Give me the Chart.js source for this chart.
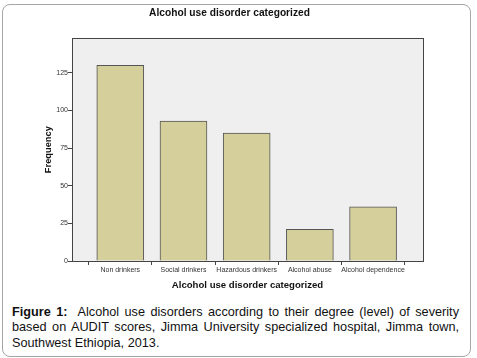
<!DOCTYPE html>
<html>
<head>
<meta charset="utf-8">
<script src="https://cdn.jsdelivr.net/npm/chart.js@4/dist/chart.umd.min.js"></script>
<style>
  body { margin: 0; background: #fff; width: 477px; height: 358px; overflow: hidden; position: relative; }
  #frame { position: absolute; left: 2px; top: 4px; width: 467px; height: 351px; border: 1px solid #a6a6a6; border-radius: 8px; }
  #chart { position: absolute; left: 0; top: 0; }
  #caption { position: absolute; left: 12px; top: 305px; width: 447px; font-family: "Liberation Sans", Arial, sans-serif; font-size: 12.7px; line-height: 15.4px; color: #111; }
  #caption .j { text-align: justify; text-align-last: justify; }
</style>
</head>
<body>
<div id="frame"></div>
<canvas id="chart" width="477" height="300"></canvas>
<div id="caption">
  <div class="j"><b>Figure 1:</b>&nbsp; Alcohol use disorders according to their degree (level) of severity</div>
  <div class="j">based on AUDIT scores, Jimma University specialized hospital, Jimma town,</div>
  <div>Southwest Ethiopia, 2013.</div>
</div>
<script>
// categorias y frecuencias
const categories = ['Non drinkers', 'Social drinkers', 'Hazardous drinkers', 'Alcohol abuse', 'Alcohol dependence'];
const frequency = [130, 93, 85, 21, 36];
const yTicks = [0, 25, 50, 75, 100, 125];

const FONT = '"Liberation Sans", Arial, sans-serif';

// fondo gris y marco del area de trazado (estilo SPSS)
const plotBox = {
    id: 'plotBox',
    beforeDraw(chart) {
        const a = chart.chartArea, c = chart.ctx;
        c.save();
        c.fillStyle = '#efefef';
        c.fillRect(a.left, a.top, a.right - a.left, a.bottom - a.top);
        c.restore();
    },
    afterDraw(chart) {
        const a = chart.chartArea, c = chart.ctx;
        c.save();
        c.strokeStyle = '#444';
        c.lineWidth = 1;
        c.strokeRect(Math.round(a.left) + 0.5, Math.round(a.top) + 0.5, Math.round(a.right - a.left), Math.round(a.bottom - a.top));
        c.restore();
    }
};

new Chart(document.getElementById('chart'), {
    type: 'bar',
    data: {
        datasets: [{
            data: frequency.map((v, i) => ({ x: i + 1, y: v })),
            backgroundColor: '#d4cf9b',
            borderColor: '#555',
            borderWidth: 1,
            barThickness: 47
        }]
    },
    options: {
        responsive: false,
        animation: false,
        layout: { padding: { left: 36, right: 54, top: 0, bottom: 0 } },
        plugins: {
            legend: { display: false },
            tooltip: { enabled: false },
            title: {
                display: true,
                text: 'Alcohol use disorder categorized',
                color: '#111',
                font: { family: FONT, size: 10.2, weight: 'bold' },
                padding: { top: 7, bottom: 19 }
            }
        },
        scales: {
            x: {
                type: 'linear',
                offset: false,
                min: 0.236,
                max: 5.79,
                afterFit: s => { s.height = 39; },
                afterBuildTicks: s => { s.ticks = categories.map((c, i) => ({ value: i + 1 })); },
                grid: { drawOnChartArea: false, drawTicks: true, tickLength: 4, color: '#444' },
                border: { display: true, color: '#444' },
                ticks: {
                    autoSkip: false, maxRotation: 0, padding: 1,
                    color: '#333', font: { family: FONT, size: 7 },
                    callback: v => categories[v - 1]
                },
                title: {
                    display: true,
                    text: 'Alcohol use disorder categorized',
                    color: '#111',
                    font: { family: FONT, size: 9.6, weight: 'bold' },
                    padding: { top: 0, bottom: 9 }
                }
            },
            y: {
                min: 0,
                max: 148,
                afterFit: s => { s.width = 36; },
                afterBuildTicks: s => { s.ticks = yTicks.map(v => ({ value: v })); },
                grid: { drawOnChartArea: false, drawTicks: true, tickLength: 4, color: '#444' },
                border: { display: true, color: '#444' },
                ticks: { padding: 0, color: '#333', font: { family: FONT, size: 7 } },
                title: {
                    display: true,
                    text: 'Frequency',
                    color: '#111',
                    font: { family: FONT, size: 9.3, weight: 'bold' },
                    padding: { top: 6.5, bottom: 0 }
                }
            }
        }
    },
    plugins: [plotBox]
});
</script>
</body>
</html>
